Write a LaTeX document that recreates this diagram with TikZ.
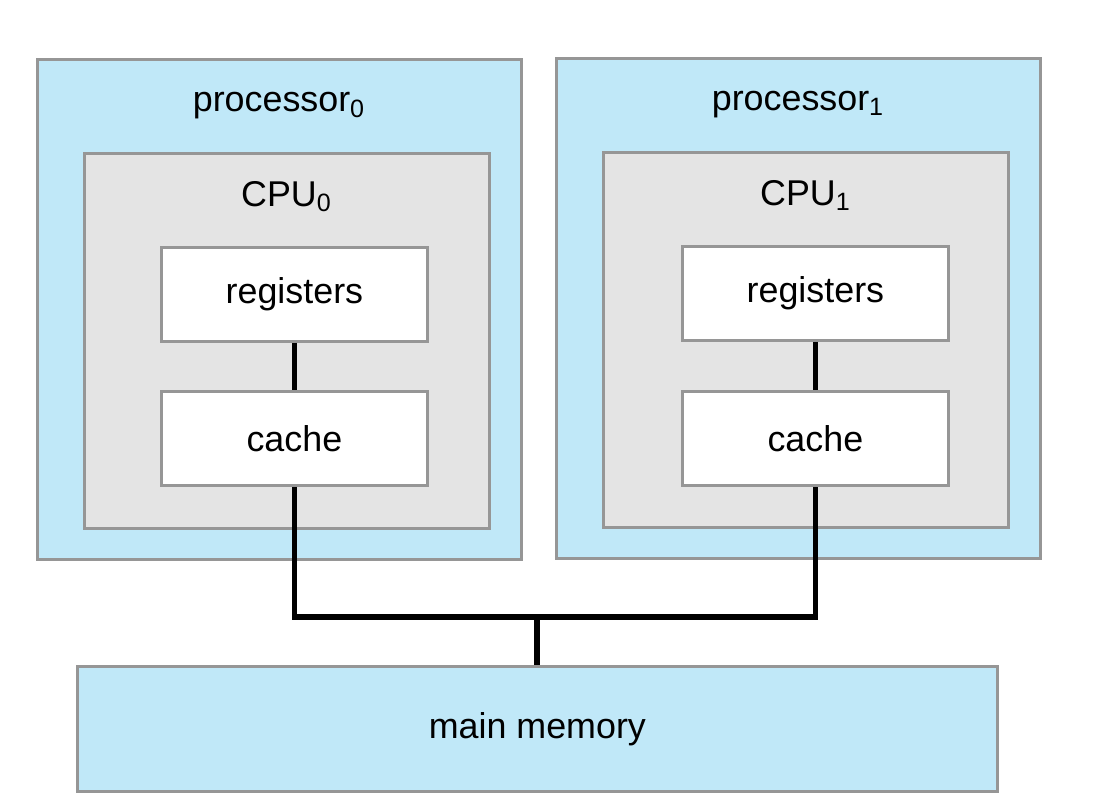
\documentclass[tikz,border=0pt]{standalone}
\usepackage{fontspec}
\setmainfont{Liberation Sans}
\usetikzlibrary{positioning}
\definecolor{procblue}{RGB}{192,232,248}
\definecolor{cpugray}{RGB}{228,228,228}
\definecolor{edgegray}{RGB}{150,150,150}
\tikzset{
	box/.style={draw=edgegray, line width=0.8pt, inner sep=0pt, anchor=north west},
	proc/.style={box, fill=procblue, minimum width=4.84cm, minimum height=5.0cm},
	cpu/.style={box, fill=cpugray, minimum width=4.05cm, minimum height=3.75cm},
	unit/.style={box, fill=white, minimum width=2.66cm, minimum height=0.94cm},
	lbl/.style={font=\fontsize{10.2}{12}\selectfont},
	wire/.style={line width=1.6pt, black}
}
\begin{document}
\begin{tikzpicture}[y=-1cm, every node/.append style={lbl}]
	\useasboundingbox (0,0) rectangle (11.1,8.1);
	% processors
	\node[proc] (proc0) at (0.36,0.58) {};
	\node[proc] (proc1) at (5.55,0.57) {};
	\node[below=0.22cm of proc0.north] {processor\textsubscript{0}};
	\node[below=0.22cm of proc1.north] {processor\textsubscript{1}};
	% cpus
	\node[cpu] (cpu0) at (0.83,1.52) {};
	\node[cpu] (cpu1) at (6.02,1.51) {};
	\node[below=0.17cm of cpu0.north] {CPU\textsubscript{0}};
	\node[below=0.17cm of cpu1.north] {CPU\textsubscript{1}};
	% registers and caches
	\node[unit] (reg0) at (1.60,2.46) {};
	\node[unit] (cache0) at (1.60,3.90) {};
	\node[unit] (reg1) at (6.81,2.45) {};
	\node[unit] (cache1) at (6.81,3.90) {};
	\node at (reg0.center) {registers};
	\node at (cache0.center) {cache};
	\node at (reg1.center) {registers};
	\node at (cache1.center) {cache};
	% memory
	\node[box, fill=procblue, minimum width=9.2cm, minimum height=1.25cm] (mem) at (0.76,6.65) {};
	\node at (mem.center) {main memory};
	% bus
	\coordinate (bus) at (5.37,6.17);
	\draw[wire] (reg0) -- (cache0);
	\draw[wire] (reg1) -- (cache1);
	\draw[wire] (cache0.south) |- (bus) -| (cache1.south);
	\draw[wire] (bus) -- (bus |- mem.north);
\end{tikzpicture}
\end{document}
